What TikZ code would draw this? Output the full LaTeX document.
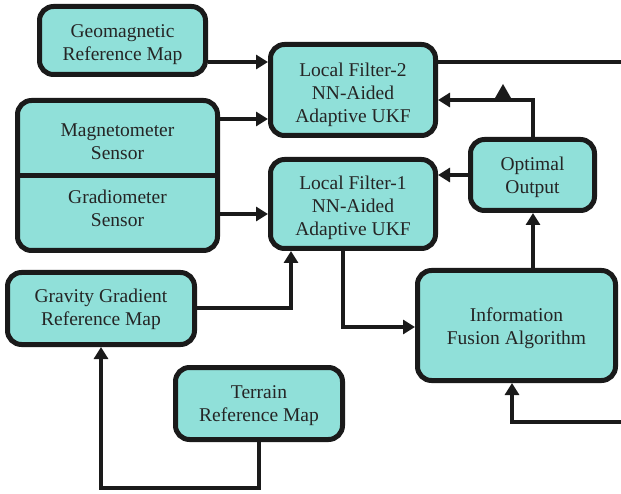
\documentclass[tikz,border=0pt]{standalone}
\usepackage{fontspec}
\setmainfont{Liberation Serif}
\usetikzlibrary{arrows.meta}
\definecolor{boxfill}{RGB}{144,224,217}
\definecolor{ink}{RGB}{26,26,26}
\newcommand{\shifted}[2]{\raisebox{-#1pt}[\height][\depth]{\begin{tabular}{@{}c@{}}#2\end{tabular}}}
\begin{document}
\begin{tikzpicture}[x=1pt,y=-1pt,
  box/.style={draw=ink, line width=5pt, fill=boxfill, rounded corners=14pt,
    align=center, inner sep=0pt, text=ink!95,
    font=\rmfamily\fontsize{19.5}{23}\selectfont},
  lbl/.style={align=center, inner sep=0pt, text=ink!95,
    font=\rmfamily\fontsize{19.5}{23}\selectfont},
  conn/.style={draw=ink, line width=4pt},
  arr/.style={conn, -{Triangle[length=12pt,width=14pt]}}]
\useasboundingbox (0,0) rectangle (621,494);

\node[box, minimum width=166pt, minimum height=68pt] (geo) at (122.5,40.5) {\shifted{4}{Geomagnetic\\Reference Map}};
\node[box, minimum width=165pt, minimum height=91pt] (lf2) at (353,90) {\shifted{5}{Local Filter-2\\NN-Aided\\Adaptive UKF}};
\node[box, minimum width=165pt, minimum height=89pt] (lf1) at (353,204) {\shifted{4}{Local Filter-1\\NN-Aided\\Adaptive UKF}};
\node[box, minimum width=200pt, minimum height=150pt] (sens) at (117.5,175.5) {};
\node[lbl] (mag) at (117.5,141.5) {Magnetometer\\Sensor};
\node[lbl] (grad) at (117.5,208.5) {Gradiometer\\Sensor};
\node[box, minimum width=124pt, minimum height=71pt] (opt) at (532.5,175) {\shifted{2}{Optimal\\Output}};
\node[box, minimum width=198pt, minimum height=110pt] (fus) at (516.5,325.5) {\shifted{3}{Information\\Fusion Algorithm}};
\node[box, minimum width=187pt, minimum height=72pt] (grav) at (101,308.5) {\shifted{0.5}{Gravity Gradient\\Reference Map}};
\node[box, minimum width=167pt, minimum height=72pt] (ter) at (259,403.5) {\shifted{2}{Terrain\\Reference Map}};

\coordinate (ydiv) at (0,176);
\draw[draw=ink, line width=5pt] (sens.west |- ydiv) -- (sens.east |- ydiv);

\coordinate (y62) at (0,62);
\coordinate (y119) at (0,119);
\coordinate (y214) at (0,214);
\coordinate (y100) at (0,100);
\coordinate (y327) at (0,327);
\coordinate (y308) at (0,308);
\coordinate (y488) at (0,488);
\coordinate (x533) at (533,0);
\coordinate (x343) at (343,0);
\coordinate (x291) at (291,0);
\coordinate (x259) at (259,0);
\coordinate (x512) at (512,0);
\coordinate (outR) at (621,62);
\coordinate (inR) at (621,422);

\draw[arr] (geo.east |- y62) -- (lf2.west |- y62);
\draw[conn] (lf2.east |- y62) -- (outR);
\draw[arr] (sens.east |- y119) -- (lf2.west |- y119);
\draw[arr] (sens.east |- y214) -- (lf1.west |- y214);
\draw[arr] (opt.north -| x533) |- (lf2.east |- y100);
\draw[arr] (opt.west) -- (lf1.east |- opt.west);
\draw[arr] (fus.north -| x533) -- (opt.south -| x533);
\draw[arr] (lf1.south -| x343) |- (fus.west |- y327);
\draw[arr] (grav.east |- y308) -| (lf1.south -| x291);
\draw[arr] (ter.south -| x259) |- (grav.south |- y488) -- (grav.south);
\draw[arr] (inR) -| (fus.south -| x512);

\fill[ink] (495,98) -- (503,84) -- (511,98) -- cycle;
\end{tikzpicture}
\end{document}
